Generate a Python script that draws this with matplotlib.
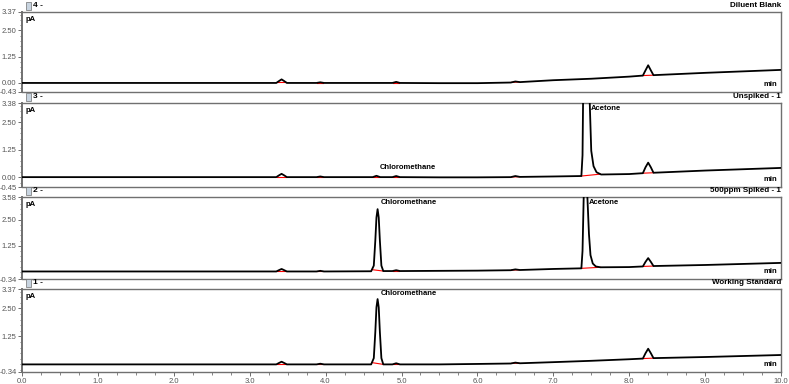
import numpy as np
import matplotlib
matplotlib.use("Agg")
import matplotlib.pyplot as plt
from matplotlib.patches import Rectangle
from matplotlib.ticker import MultipleLocator, FixedLocator

plt.rcParams['font.family'] = ['Liberation Sans', 'DejaVu Sans']

# ---------------- data ----------------
panel_ids = ["4 -", "3 -", "2 -", "1 -"]
titles = ["Diluent Blank", "Unspiked - 1", "500ppm Spiked - 1", "Working Standard"]
ylims = [(-0.43, 3.37), (-0.45, 3.38), (-0.34, 3.58), (-0.34, 3.37)]
yticks = [[-0.43, 0.00, 1.25, 2.50, 3.37],
          [-0.45, 0.00, 1.25, 2.50, 3.38],
          [-0.34, 1.25, 2.50, 3.58],
          [-0.34, 1.25, 2.50, 3.37]]
xticks = [0.0, 1.0, 2.0, 3.0, 4.0, 5.0, 6.0, 7.0, 8.0, 9.0, 10.0]

# trace knots (time [min], signal [pA])
t4 = [0.0, 3.35, 3.39, 3.42, 3.45, 3.49, 3.88, 3.93, 3.98, 4.88, 4.93, 4.98, 5.5, 6.0, 6.44,
      6.5, 6.56, 7.0, 7.5, 8.0, 8.18, 8.215, 8.25, 8.285, 8.32, 9.0, 10.0]
v4 = [0.0, 0.0, 0.1, 0.17, 0.1, 0.0, 0.0, 0.03, 0.0, 0.0, 0.05, 0.0, -0.01, -0.01, 0.02,
      0.07, 0.04, 0.13, 0.2, 0.3, 0.35, 0.6, 0.84, 0.6, 0.37, 0.48, 0.62]

t3 = [0.0, 3.35, 3.39, 3.42, 3.45, 3.49, 3.88, 3.93, 3.98, 4.62, 4.67, 4.72, 4.88, 4.93, 4.98,
      5.5, 6.0, 6.44, 6.5, 6.56, 7.0, 7.37, 7.385, 7.40, 7.43, 7.46, 7.48, 7.50,
      7.53, 7.57, 7.63, 8.0, 8.18, 8.215, 8.25, 8.285, 8.32, 9.0, 10.0]
v3 = [0.0, 0.0, 0.09, 0.15, 0.09, 0.0, 0.0, 0.03, 0.0, 0.0, 0.06, 0.0, 0.0, 0.05, 0.0,
      -0.01, -0.01, 0.0, 0.05, 0.01, 0.03, 0.05, 1.0, 6.0, 11.0, 6.0, 3.4, 1.2,
      0.5, 0.22, 0.12, 0.14, 0.18, 0.45, 0.66, 0.45, 0.2, 0.3, 0.42]

t2 = [0.0, 3.35, 3.39, 3.42, 3.45, 3.49, 3.88, 3.93, 3.98, 4.60, 4.635, 4.655, 4.67, 4.685,
      4.70, 4.715, 4.735, 4.76, 4.88, 4.93, 4.98, 5.5, 6.0, 6.44, 6.5, 6.56, 7.0, 7.37,
      7.385, 7.40, 7.425, 7.45, 7.47, 7.49, 7.52, 7.56, 7.62, 8.0, 8.18, 8.215, 8.25,
      8.285, 8.32, 9.0, 10.0]
v2 = [0.02, 0.02, 0.09, 0.14, 0.09, 0.02, 0.02, 0.05, 0.02, 0.03, 0.3, 1.5, 2.6, 3.0,
      2.6, 1.5, 0.3, 0.04, 0.04, 0.08, 0.04, 0.05, 0.06, 0.08, 0.12, 0.09, 0.14, 0.17,
      1.0, 3.5, 6.0, 3.5, 1.8, 0.8, 0.4, 0.26, 0.22, 0.23, 0.26, 0.48, 0.66,
      0.48, 0.28, 0.33, 0.43]

t1 = [0.0, 3.35, 3.39, 3.42, 3.45, 3.49, 3.88, 3.93, 3.98, 4.60, 4.635, 4.655, 4.67, 4.685,
      4.70, 4.715, 4.735, 4.76, 4.88, 4.93, 4.98, 5.5, 6.0, 6.44, 6.5, 6.56, 7.0, 7.5,
      8.0, 8.18, 8.215, 8.25, 8.285, 8.32, 9.0, 10.0]
v1 = [0.0, 0.0, 0.07, 0.12, 0.07, 0.0, 0.0, 0.03, 0.0, 0.0, 0.28, 1.45, 2.55, 2.92,
      2.55, 1.45, 0.28, 0.0, 0.0, 0.05, 0.0, 0.0, 0.02, 0.04, 0.08, 0.05, 0.1, 0.16,
      0.23, 0.26, 0.5, 0.7, 0.5, 0.28, 0.33, 0.42]

traces_t = [t4, t3, t2, t1]
traces_v = [v4, v3, v2, v1]

# integration baselines (start, end) per panel
ints4 = [(3.36, 3.48), (3.89, 3.97), (4.89, 4.97), (6.45, 6.55), (8.18, 8.32)]
ints3 = [(3.36, 3.48), (3.89, 3.97), (4.63, 4.71), (4.89, 4.97), (6.45, 6.55),
         (7.37, 7.62), (8.18, 8.32)]
ints2 = [(3.36, 3.48), (3.89, 3.97), (4.61, 4.76), (4.89, 4.97), (6.45, 6.55),
         (7.37, 7.62), (8.18, 8.32)]
ints1 = [(3.36, 3.48), (3.89, 3.97), (4.61, 4.76), (4.89, 4.97), (6.45, 6.55),
         (8.18, 8.32)]
integrations = [ints4, ints3, ints2, ints1]

# peak name labels: (panel index, time, axes-y fraction, text)
labels = [(1, 4.72, 0.23, "Chloromethane"), (1, 7.49, 0.93, "Acetone"),
          (2, 4.73, 0.93, "Chloromethane"), (2, 7.47, 0.93, "Acetone"),
          (3, 4.73, 0.94, "Chloromethane")]

# ---------------- layout ----------------
W, H = 789, 384
fig = plt.figure(figsize=(W / 100, H / 100), dpi=100)
left_px, right_px = 22, 781
boxes = [(12, 92), (103, 187), (197, 279), (289, 372)]
frame_col = '#707070'
tick_col = '#555555'

axes = []
for i, (top, bot) in enumerate(boxes):
    ax = fig.add_axes([left_px / W, 1 - bot / H, (right_px - left_px) / W, (bot - top) / H])
    axes.append(ax)
    ax.plot(traces_t[i], traces_v[i], color='black', lw=1.3, zorder=3)
    for (s, e) in integrations[i]:
        ax.plot([s, e], [np.interp(s, traces_t[i], traces_v[i]), np.interp(e, traces_t[i], traces_v[i])],
                color='red', lw=0.8, zorder=2)
    ax.set_xlim(0, 10)
    ax.set_ylim(*ylims[i])
    ax.yaxis.set_major_locator(FixedLocator(yticks[i]))
    ax.set_yticklabels([f"{v:.2f}" for v in yticks[i]])
    ax.yaxis.set_minor_locator(MultipleLocator(0.25))
    ax.tick_params(axis='y', which='major', length=3, width=0.6, color=tick_col,
                   labelsize=5.5, labelcolor=tick_col, pad=1)
    ax.tick_params(axis='y', which='minor', length=1.5, width=0.5, color=tick_col)
    if i < 3:
        ax.tick_params(axis='x', which='both', bottom=False, labelbottom=False)
    else:
        ax.set_xticks(xticks)
        ax.set_xticklabels([f"{v:.1f}" for v in xticks])
        ax.xaxis.set_minor_locator(MultipleLocator(0.25))
        ax.tick_params(axis='x', which='major', length=3, width=0.6, color=tick_col,
                       labelsize=5.5, labelcolor=tick_col, pad=1.5)
        ax.tick_params(axis='x', which='minor', length=2, width=0.5, color=tick_col)
    for sp in ax.spines.values():
        sp.set_color(frame_col)
        sp.set_linewidth(1.0)
    ax.spines['left'].set_linewidth(1.4)
    ax.text(0.005, 0.91, "pA", transform=ax.transAxes, fontsize=5.5, fontweight='bold',
            ha='left', va='center')
    ax.text(0.995, 0.09, "min", transform=ax.transAxes, fontsize=5.5, fontweight='bold',
            ha='right', va='center')
    # header strip
    hy = 1 - (top - 6.5) / H
    fig.text(right_px / W, hy, titles[i], fontsize=5.8, fontweight='bold', ha='right', va='center')
    fig.text(33 / W, hy, panel_ids[i], fontsize=6, fontweight='bold', ha='left', va='center')
    fig.patches.append(Rectangle((26 / W, 1 - (top - 2) / H), 5 / W, 8 / H,
                                 transform=fig.transFigure, facecolor='#c8d4e0',
                                 edgecolor='#707070', lw=0.5))

for (pi, t, yf, txt) in labels:
    axes[pi].text(t, yf, txt, transform=axes[pi].get_xaxis_transform(), fontsize=5.5,
                  fontweight='bold', ha='left', va='center', zorder=4)

fig.savefig("out.png", dpi=100)
